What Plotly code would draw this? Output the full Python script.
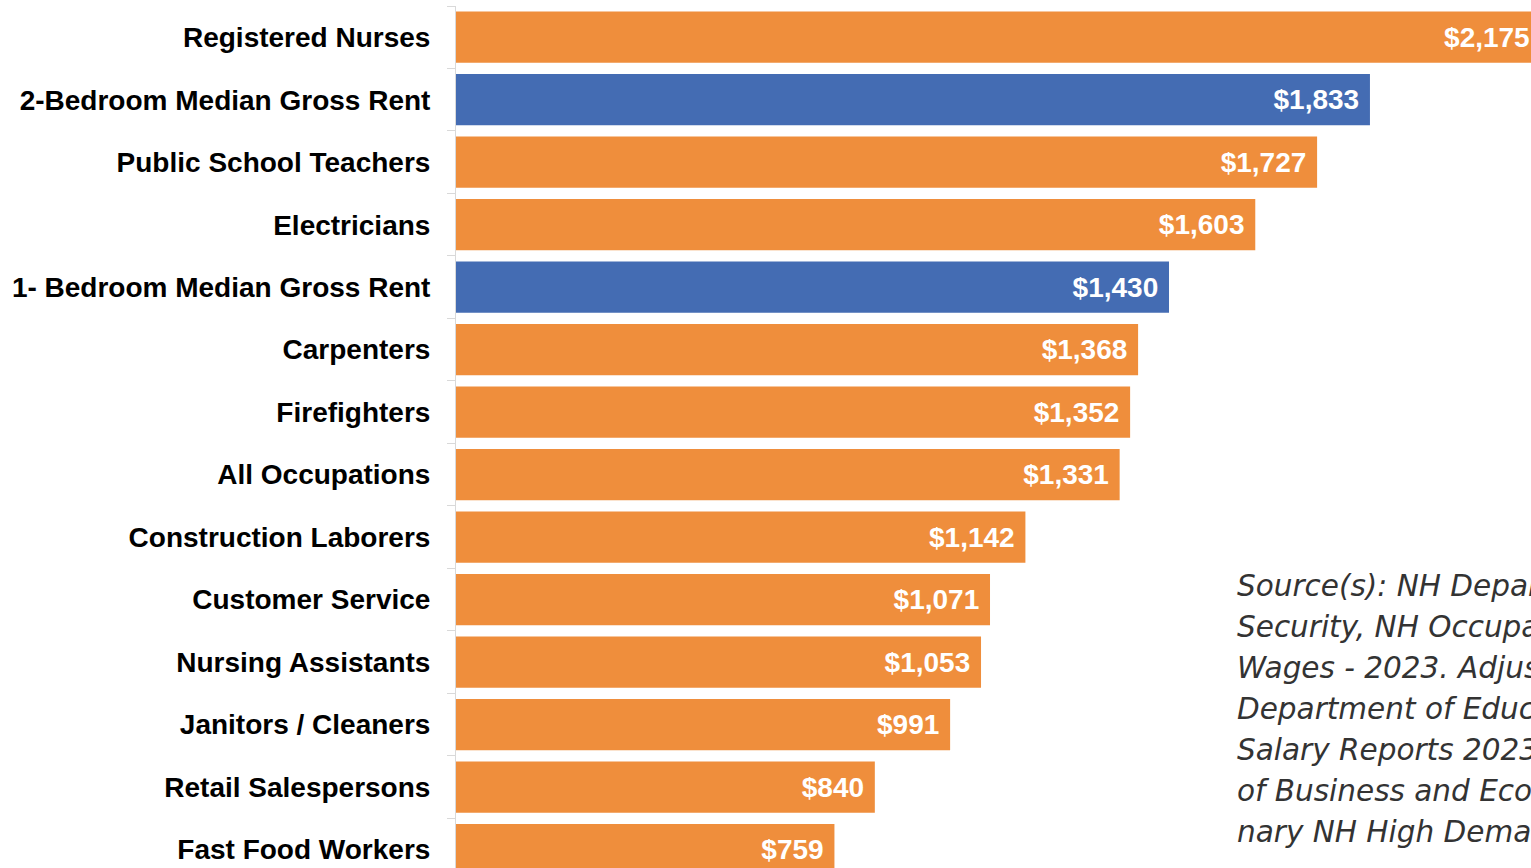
import plotly.graph_objects as go

categories = [
    "Registered Nurses",
    "2-Bedroom Median Gross Rent",
    "Public School Teachers",
    "Electricians",
    "1- Bedroom Median Gross Rent",
    "Carpenters",
    "Firefighters",
    "All Occupations",
    "Construction Laborers",
    "Customer Service",
    "Nursing Assistants",
    "Janitors / Cleaners",
    "Retail Salespersons",
    "Fast Food Workers",
]
values = [2175, 1833, 1727, 1603, 1430, 1368, 1352, 1331, 1142, 1071, 1053, 991, 840, 759]
is_rent = [False, True, False, False, True, False, False, False, False, False, False, False, False, False]

source_lines = [
    "Source(s): NH Department of Employment",
    "Security, NH Occupational Employment and",
    "Wages - 2023. Adjusted Teacher Salaries: NH",
    "Department of Education, Average Teacher",
    "Salary Reports 2023-2024. NH Department",
    "of Business and Economic Affairs, Prelimi-",
    "nary NH High Demand Occupations",
]

ORANGE = "#EF8E3C"
BLUE = "#446CB3"

colors = [BLUE if r else ORANGE for r in is_rent]
labels = ["${:,}\u00a0".format(v) for v in values]

W, H = 1531, 868
ML, MT = 456, 6

fig = go.Figure(
    go.Bar(
        y=categories,
        x=values,
        orientation="h",
        marker=dict(color=colors, line=dict(width=0)),
        text=labels,
        textposition="inside",
        insidetextanchor="end",
        textangle=0,
        textfont=dict(family="Liberation Sans, Arial", size=28, color="white", weight="bold"),
        cliponaxis=True,
        hoverinfo="skip",
    )
)

fig.update_layout(
    width=W,
    height=H,
    margin=dict(l=ML, r=0, t=MT, b=0, pad=0),
    paper_bgcolor="white",
    plot_bgcolor="white",
    bargap=0.18,
    showlegend=False,
    xaxis=dict(range=[0, 2156], visible=False, fixedrange=True),
    yaxis=dict(
        type="category",
        categoryorder="array",
        categoryarray=categories,
        range=[13.296, -0.5],
        showline=True,
        linecolor="#D9D9D9",
        linewidth=1,
        ticks="outside",
        tickson="boundaries",
        ticklen=8,
        tickcolor="#D9D9D9",
        showgrid=False,
        ticklabelstandoff=19,
        tickfont=dict(family="Liberation Sans, Arial", size=28, color="black", weight="bold"),
    ),
)

plot_h = H - MT
y0 = 586
for i, line in enumerate(source_lines):
    ypix = y0 + 41 * i
    fig.add_annotation(
        text=line,
        xref="paper",
        yref="paper",
        x=(1235 - ML) / (W - ML),
        y=(H - ypix) / plot_h,
        xanchor="left",
        yanchor="middle",
        showarrow=False,
        align="left",
        font=dict(family="DejaVu Sans", size=29.5, color="#333333", style="italic"),
    )

fig.write_html(
    "out.html",
    config={"displayModeBar": False},
    post_script="document.body.style.margin='0';document.body.style.overflow='hidden';",
)
